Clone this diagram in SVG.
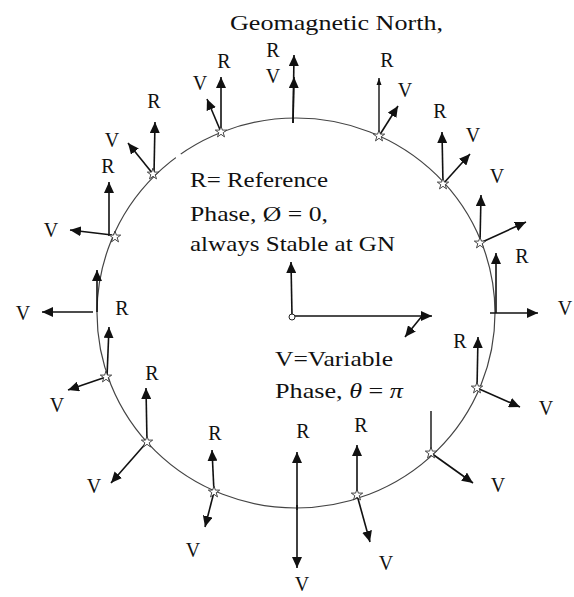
<svg xmlns="http://www.w3.org/2000/svg" xmlns:xlink="http://www.w3.org/1999/xlink" width="574" height="597" viewBox="0 0 574 597">
<style>
  .lbl { font-family: "Liberation Serif", "Times New Roman", serif; font-size: 20px; fill: #111; text-anchor: middle; }
  .txt { font-family: "Liberation Serif", "Times New Roman", serif; font-size: 22px; fill: #111; }
  .vec { stroke: #111; stroke-width: 1.6; fill: none; marker-end: url(#ah); }
  .bare { stroke: #111; stroke-width: 1.4; fill: none; }
  .thin { stroke: #111; stroke-width: 1.4; fill: none; marker-end: url(#ahs); }
  .ring { stroke: #444; stroke-width: 1.2; fill: none; }
  .star { fill: #fff; stroke: #333; stroke-width: 0.9; }
</style>
<defs>
  <marker id="ah" markerUnits="userSpaceOnUse" markerWidth="12" markerHeight="10" refX="11" refY="5" orient="auto">
    <path d="M0,0 L11,5 L0,10 z" fill="#111"/>
  </marker>
  <marker id="ahs" markerUnits="userSpaceOnUse" markerWidth="8" markerHeight="6" refX="7" refY="3" orient="auto">
    <path d="M0,0.5 L7,3 L0,5.5 z" fill="#111"/>
  </marker>
  <path id="star" class="star" d="M0,-6 L1.4,-1.9 L5.7,-1.9 L2.2,0.7 L3.5,4.9 L0,2.3 L-3.5,4.9 L-2.2,0.7 L-5.7,-1.9 L-1.4,-1.9 z"/>
</defs>
<rect width="574" height="597" fill="#fff"/>

<text class="txt" x="230" y="30" font-size="24" textLength="213" lengthAdjust="spacingAndGlyphs">Geomagnetic North,</text>

<ellipse class="ring" cx="296" cy="313" rx="199" ry="195"/>
<rect x="174" y="150" width="6" height="8" fill="#fff" transform="rotate(-35 177 154)"/>

<g id="connectors">
  <line class="vec" x1="293" y1="123" x2="294" y2="55"/>
  <line class="vec" x1="293" y1="123" x2="294" y2="77"/>
  <line class="vec" x1="221" y1="132" x2="221" y2="77"/>
  <line class="vec" x1="221" y1="132" x2="207" y2="99"/>
  <line class="thin" x1="379" y1="136" x2="379" y2="78"/>
  <line class="vec" x1="379" y1="136" x2="398" y2="106"/>
  <line class="vec" x1="443" y1="184" x2="442" y2="132"/>
  <line class="vec" x1="443" y1="184" x2="470" y2="154"/>
  <line class="vec" x1="480" y1="243" x2="481" y2="195"/>
  <line class="vec" x1="480" y1="243" x2="526" y2="222"/>
  <line class="vec" x1="496" y1="313" x2="496" y2="253"/>
  <line class="vec" x1="490" y1="313" x2="538" y2="313"/>
  <line class="vec" x1="477" y1="388" x2="478" y2="337"/>
  <line class="vec" x1="477" y1="388" x2="520" y2="407"/>
  <line class="bare" x1="431" y1="453" x2="431" y2="411"/>
  <line class="vec" x1="431" y1="453" x2="473" y2="483"/>
  <line class="vec" x1="357" y1="495" x2="357" y2="445"/>
  <line class="vec" x1="357" y1="495" x2="370" y2="542"/>
  <line class="vec" x1="297" y1="510" x2="297" y2="452"/>
  <line class="vec" x1="297" y1="505" x2="297" y2="568"/>
  <line class="vec" x1="214" y1="492" x2="212" y2="450"/>
  <line class="vec" x1="214" y1="492" x2="205" y2="527"/>
  <line class="vec" x1="147" y1="442" x2="146" y2="388"/>
  <line class="vec" x1="147" y1="442" x2="111" y2="483"/>
  <line class="vec" x1="107" y1="377" x2="109" y2="327"/>
  <line class="vec" x1="106" y1="377" x2="68" y2="390"/>
  <line class="vec" x1="93" y1="312" x2="42" y2="312"/>
  <line class="vec" x1="97" y1="312" x2="97" y2="270"/>
  <line class="vec" x1="154" y1="174" x2="155" y2="122"/>
  <line class="vec" x1="153" y1="174" x2="128" y2="143"/>
  <line class="vec" x1="109" y1="236" x2="109" y2="182"/>
  <line class="vec" x1="112" y1="235" x2="70" y2="230"/>
  <line class="vec" x1="292" y1="316" x2="291" y2="262"/>
  <line class="vec" x1="295" y1="316" x2="432" y2="316"/>
  <line class="vec" x1="422" y1="316" x2="405" y2="337"/>
</g>

<g id="centre">
  <circle cx="292" cy="317" r="3" fill="#fff" stroke="#222" stroke-width="1"/>
  <text class="txt" x="190" y="187" textLength="138" lengthAdjust="spacingAndGlyphs">R= Reference</text>
  <text class="txt" x="190" y="221" textLength="138" lengthAdjust="spacingAndGlyphs">Phase, Ø = 0,</text>
  <text class="txt" x="190" y="251" textLength="205" lengthAdjust="spacingAndGlyphs">always Stable at GN</text>
  <text class="txt" x="275" y="366" textLength="118" lengthAdjust="spacingAndGlyphs">V=Variable</text>
  <text class="txt" x="275" y="398" textLength="128" lengthAdjust="spacingAndGlyphs">Phase, <tspan font-style="italic">θ</tspan> = <tspan font-style="italic">π</tspan></text>
</g>

<g id="stations">
  <g id="st-A"><use xlink:href="#star" x="221" y="132"/><text class="lbl" x="224" y="68">R</text><text class="lbl" x="200" y="90">V</text></g>
  <g id="st-B"><text class="lbl" x="273" y="57">R</text><text class="lbl" x="273" y="83">V</text></g>
  <g id="st-C"><use xlink:href="#star" x="379" y="136"/><text class="lbl" x="387" y="67">R</text><text class="lbl" x="405" y="97">V</text></g>
  <g id="st-D"><use xlink:href="#star" x="443" y="184"/><text class="lbl" x="440" y="118">R</text><text class="lbl" x="473" y="142">V</text></g>
  <g id="st-E"><use xlink:href="#star" x="480" y="243"/><text class="lbl" x="497" y="183">V</text></g>
  <g id="st-F"><text class="lbl" x="522" y="263">R</text><text class="lbl" x="565" y="315">V</text></g>
  <g id="st-G"><use xlink:href="#star" x="477" y="388"/><text class="lbl" x="460" y="348">R</text><text class="lbl" x="546" y="415">V</text></g>
  <g id="st-H"><use xlink:href="#star" x="431" y="453"/><text class="lbl" x="498" y="492">V</text></g>
  <g id="st-I"><use xlink:href="#star" x="357" y="495"/><text class="lbl" x="361" y="432">R</text><text class="lbl" x="386" y="570">V</text></g>
  <g id="st-J"><text class="lbl" x="303" y="438">R</text><text class="lbl" x="302" y="591">V</text></g>
  <g id="st-K"><use xlink:href="#star" x="214" y="492"/><text class="lbl" x="215" y="440">R</text><text class="lbl" x="193" y="557">V</text></g>
  <g id="st-L"><use xlink:href="#star" x="147" y="442"/><text class="lbl" x="152" y="380">R</text><text class="lbl" x="94" y="493">V</text></g>
  <g id="st-M"><use xlink:href="#star" x="106" y="377"/><text class="lbl" x="122" y="315">R</text><text class="lbl" x="57" y="412">V</text></g>
  <g id="st-N"><text class="lbl" x="23" y="320">V</text></g>
  <g id="st-O"><use xlink:href="#star" x="153" y="174"/><text class="lbl" x="154" y="108">R</text><text class="lbl" x="112" y="147">V</text></g>
  <g id="st-P"><use xlink:href="#star" x="115" y="237"/><text class="lbl" x="108" y="173">R</text><text class="lbl" x="51" y="237">V</text></g>
</g>
</svg>
